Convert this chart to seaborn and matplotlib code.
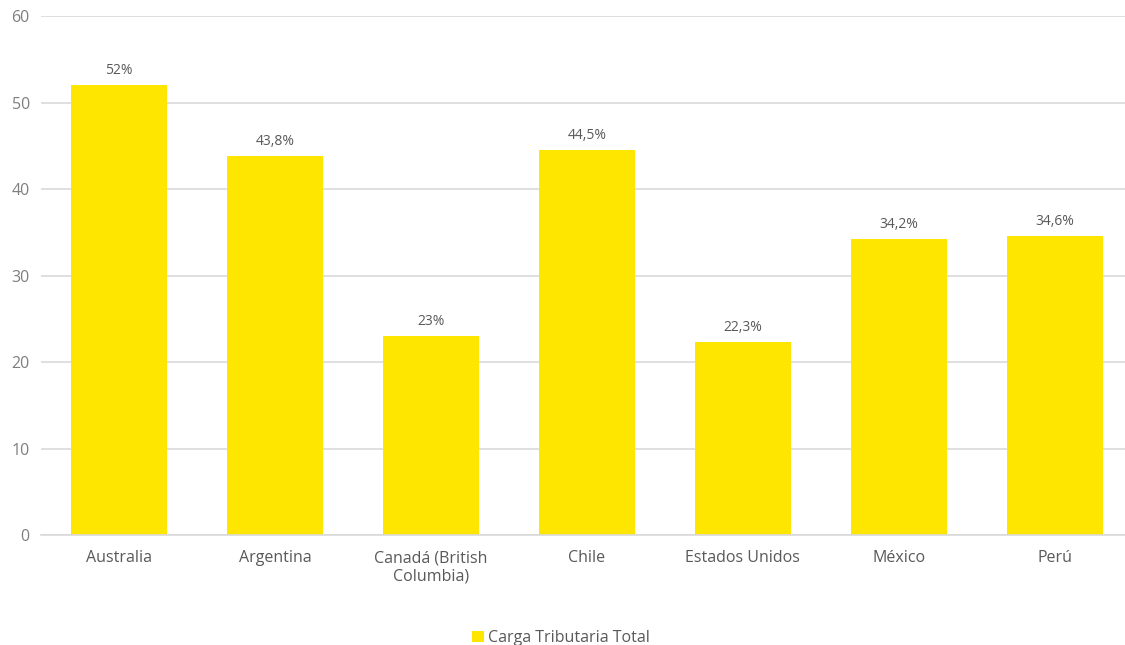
import matplotlib
matplotlib.use("Agg")
import matplotlib.pyplot as plt
import seaborn as sns
import pandas as pd

categories = ["Australia", "Argentina", "Canadá (British\nColumbia)", "Chile",
              "Estados Unidos", "México", "Perú"]
values = [52.0, 43.8, 23.0, 44.5, 22.3, 34.2, 34.6]
labels = ["52%", "43,8%", "23%", "44,5%", "22,3%", "34,2%", "34,6%"]
series_name = "Carga Tributaria Total"

sns.set_theme(style="white")
plt.rcParams["font.family"] = ["Open Sans", "DejaVu Sans"]

df = pd.DataFrame({"pais": categories, "valor": values, "serie": series_name})

fig = plt.figure(figsize=(11.25, 6.45), dpi=100)
ax = fig.add_axes([0.0364, 0.1705, 0.9636, 0.8047])

sns.barplot(data=df, x="pais", y="valor", hue="serie", palette=["#FFE600"],
            width=0.615, ax=ax, legend=True, saturation=1, linewidth=0)

ax.set_ylim(0, 60)
ax.set_yticks(range(0, 61, 10))
ax.set_xlim(-0.5, 6.45)
ax.yaxis.grid(True, color="#D9D9D9", linewidth=1.2)
ax.set_axisbelow(True)
for s in ["top", "right", "left"]:
    ax.spines[s].set_visible(False)
ax.spines["bottom"].set_color("#D9D9D9")
ax.spines["bottom"].set_linewidth(1.2)
ax.set_xlabel("")
ax.set_ylabel("")
ax.tick_params(axis="both", length=0, colors="#595959", labelsize=11.5)
ax.tick_params(axis="y", pad=8, colors="#7F7F7F")
ax.tick_params(axis="x", pad=11)

for cont in ax.containers:
    ax.bar_label(cont, labels=labels, padding=5, fontsize=10, color="#595959")

leg = ax.legend(loc="upper center", bbox_to_anchor=(0.48, -0.155), frameon=False,
                fontsize=11.5, handlelength=0.7, handleheight=0.7, handletextpad=0.3)
for t in leg.get_texts():
    t.set_color("#595959")

fig.savefig("out.png", dpi=100)
